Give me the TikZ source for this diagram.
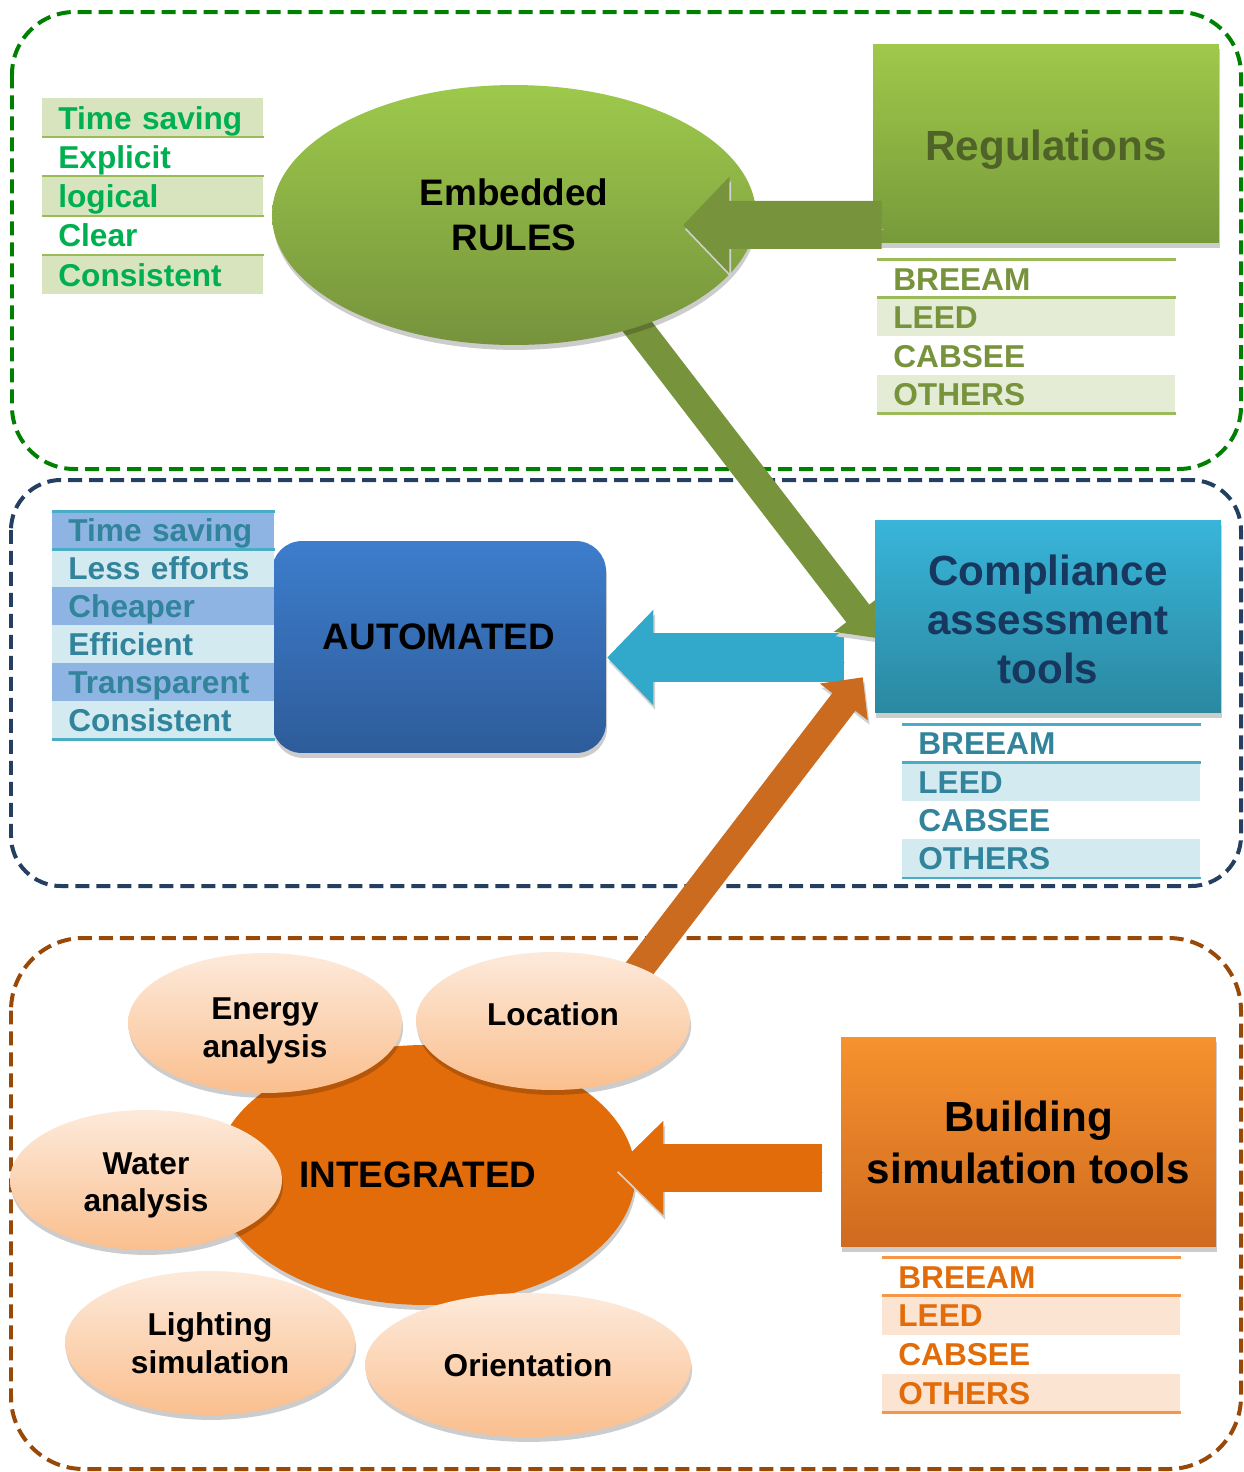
\documentclass[tikz,border=0pt]{standalone}
\usepackage{fontspec}
\setmainfont{Liberation Sans}
\usetikzlibrary{arrows.meta,shapes.geometric,shadows,calc}
\pgfdeclarelayer{back}
\pgfsetlayers{back,main}

% frame colours
\definecolor{frameG}{HTML}{008000}
\definecolor{frameB}{HTML}{243F60}
\definecolor{frameO}{HTML}{984807}
% rules (green) family
\definecolor{embTop}{HTML}{9DC94B}
\definecolor{embBot}{HTML}{76933C}
\definecolor{regTop}{HTML}{A0C84A}
\definecolor{regBot}{HTML}{779A3A}
\definecolor{regTxt}{HTML}{4F6228}
\definecolor{olive}{HTML}{77933C}
\definecolor{oliveLine}{HTML}{9BBB59}
\definecolor{oliveShade}{HTML}{E4ECD6}
\definecolor{gListTxt}{HTML}{00B050}
\definecolor{gListShade}{HTML}{D7E4BD}
% automation (blue) family
\definecolor{casTop}{HTML}{38B5D9}
\definecolor{casBot}{HTML}{2B88A1}
\definecolor{casTxt}{HTML}{17375E}
\definecolor{autoTop}{HTML}{3D7DCC}
\definecolor{autoBot}{HTML}{2E5C9A}
\definecolor{cyanArrow}{HTML}{32A9CA}
\definecolor{tealTxt}{HTML}{31849B}
\definecolor{tealLine}{HTML}{4BACC6}
\definecolor{tealShade}{HTML}{D3EAF1}
\definecolor{blueShade}{HTML}{8DB4E2}
% integration (orange) family
\definecolor{intOrange}{HTML}{E36C0A}
\definecolor{bstTop}{HTML}{F7922F}
\definecolor{bstBot}{HTML}{CF6A1F}
\definecolor{diagOrange}{HTML}{CB6B1F}
\definecolor{orangeLine}{HTML}{F79646}
\definecolor{orangeShade}{HTML}{FCE4D3}
\definecolor{peachTop}{HTML}{FDEADB}
\definecolor{peachBot}{HTML}{FABF8E}

\tikzset{
  shadowed/.style={drop shadow={shadow xshift=0.6pt, shadow yshift=-2.8pt, fill=black, opacity=0.2}},
  regionframe/.style={line width=0.08cm, dash pattern=on 0.28cm off 0.14cm},
  bigtitle/.style={font=\fontsize{24}{28}\selectfont\bfseries, align=center},
  midtitle/.style={font=\fontsize{21}{25.5}\selectfont\bfseries, align=center},
  bubble/.style={ellipse, inner sep=0pt, top color=peachTop, bottom color=peachBot, shadowed,
    font=\fontsize{18}{21.5}\selectfont\bfseries, align=center},
  listrow/.style n args={3}{rectangle, anchor=north west, inner ysep=0pt, inner xsep=0.32cm,
    minimum height=#2, text width=#1, align=left, text=#3,
    font=\fontsize{18}{21}\selectfont\bfseries, text height=13pt, text depth=0pt},
  blockarrow/.style n args={4}{draw=#1, line width=#2,
    -{Triangle[width=#3, length=#4, line width=1.2pt]}},
  arrowshadow/.style={preaction={draw=black!18, transform canvas={xshift=1pt, yshift=-2.5pt}}},
  gsep/.style={draw=oliveLine, line width=0.04cm},
  osep/.style={draw=oliveLine, line width=0.06cm},
  tsep/.style={draw=tealLine, line width=0.06cm},
  rsep/.style={draw=orangeLine, line width=0.06cm},
}

\begin{document}
\begin{tikzpicture}[x=0.02cm, y=-0.02cm]
\useasboundingbox (0,0) rectangle (1244,1472);

% ---------------- rules region ----------------
\node[ellipse, minimum width=9.68cm, minimum height=5.2cm, inner sep=0pt,
      top color=embTop, bottom color=embBot, shadowed, midtitle] (emb) at (514,215) {Embedded\\RULES};
\node[rectangle, minimum width=6.92cm, minimum height=3.98cm, top color=regTop, bottom color=regBot,
      shadowed, bigtitle, text=regTxt, text height=19pt, text depth=0pt] (reg) at (1046,143.5) {Regulations};

% qualities of embedded rules
\node[listrow={3.78cm}{0.784cm}{gListTxt}, fill=gListShade] (gl1) at (42,98) {Time saving};
\node[listrow={3.78cm}{0.784cm}{gListTxt}] (gl2) at (42,137.2) {Explicit};
\node[listrow={3.78cm}{0.784cm}{gListTxt}, fill=gListShade] (gl3) at (42,176.4) {logical};
\node[listrow={3.78cm}{0.784cm}{gListTxt}] (gl4) at (42,215.6) {Clear};
\node[listrow={3.78cm}{0.784cm}{gListTxt}, fill=gListShade] (gl5) at (42,254.8) {Consistent};
\foreach \r in {gl2,gl3,gl4,gl5} \draw[gsep] (\r.north west) -- (\r.north east);

% rating schemes under regulations
\node[listrow={5.32cm}{0.77cm}{olive}] (rl1) at (877,259) {BREEAM};
\node[listrow={5.32cm}{0.77cm}{olive}, fill=oliveShade] (rl2) at (877,297.5) {LEED};
\node[listrow={5.32cm}{0.77cm}{olive}] (rl3) at (877,336) {CABSEE};
\node[listrow={5.32cm}{0.77cm}{olive}, fill=oliveShade] (rl4) at (877,374.5) {OTHERS};
\draw[osep] (rl1.north west) -- (rl1.north east);
\draw[osep] (rl2.north west) -- (rl2.north east);
\draw[osep] (rl4.south west) -- (rl4.south east);

% ---------------- automation region ----------------
\node[rectangle, rounded corners=0.6cm, minimum width=6.68cm, minimum height=4.24cm,
      top color=autoTop, bottom color=autoBot, shadowed, midtitle, text depth=0.4cm] (auto) at (439,647) {AUTOMATED};
\node[rectangle, minimum width=6.92cm, minimum height=3.86cm, top color=casTop, bottom color=casBot,
      shadowed, bigtitle, text=casTxt] (cas) at (1048,616.5) {\rule{0pt}{21pt}Compliance\\assessment\\tools};

% benefits of automation
\node[listrow={3.8cm}{0.76cm}{tealTxt}, fill=blueShade] (bl1) at (52,511) {Time saving};
\node[listrow={3.8cm}{0.76cm}{tealTxt}, fill=tealShade] (bl2) at (52,549) {Less efforts};
\node[listrow={3.8cm}{0.76cm}{tealTxt}, fill=blueShade] (bl3) at (52,587) {Cheaper};
\node[listrow={3.8cm}{0.76cm}{tealTxt}, fill=tealShade] (bl4) at (52,625) {Efficient};
\node[listrow={3.8cm}{0.76cm}{tealTxt}, fill=blueShade] (bl5) at (52,663) {Transparent};
\node[listrow={3.8cm}{0.76cm}{tealTxt}, fill=tealShade] (bl6) at (52,701) {Consistent};
\draw[tsep] (bl1.north west) -- (bl1.north east);
\draw[tsep] (bl2.north west) -- (bl2.north east);
\draw[tsep] (bl6.south west) -- (bl6.south east);

% rating schemes under compliance tools
\node[listrow={5.32cm}{0.766cm}{tealTxt}] (cl1) at (902,724) {BREEAM};
\node[listrow={5.32cm}{0.766cm}{tealTxt}, fill=tealShade] (cl2) at (902,762.3) {LEED};
\node[listrow={5.32cm}{0.766cm}{tealTxt}] (cl3) at (902,800.6) {CABSEE};
\node[listrow={5.32cm}{0.766cm}{tealTxt}, fill=tealShade] (cl4) at (902,838.9) {OTHERS};
\draw[tsep] (cl1.north west) -- (cl1.north east);
\draw[tsep] (cl2.north west) -- (cl2.north east);
\draw[tsep, line width=0.03cm] (cl4.south west) -- (cl4.south east);

% ---------------- integration region ----------------
\node[ellipse, minimum width=8.42cm, minimum height=5.2cm, inner sep=0pt, fill=intOrange,
      shadowed, midtitle] (intg) at (425,1175) {INTEGRATED\hspace*{8pt}};
\node[bubble, minimum width=5.48cm, minimum height=2.8cm] (energy) at (265,1023) {\rule{0pt}{21pt}Energy\\analysis};
\node[bubble, minimum width=5.48cm, minimum height=2.76cm, text depth=8pt] (loc) at (553,1021) {Location};
\node[bubble, minimum width=5.44cm, minimum height=2.8cm] (water) at (146,1180) {\rule{0pt}{18.5pt}Water\\analysis};
\node[bubble, minimum width=5.8cm, minimum height=2.88cm] (light) at (210,1343) {Lighting\\simulation};
\node[bubble, minimum width=6.52cm, minimum height=2.88cm] (orient) at (528,1365) {Orientation};
\node[rectangle, minimum width=7.5cm, minimum height=4.2cm, top color=bstTop, bottom color=bstBot,
      shadowed, align=center, font=\fontsize{24}{29.5}\selectfont\bfseries] (bst) at (1028.5,1142) {Building\\simulation tools};

% rating schemes under simulation tools
\node[listrow={5.32cm}{0.775cm}{intOrange}] (ol1) at (882,1257) {BREEAM};
\node[listrow={5.32cm}{0.775cm}{intOrange}, fill=orangeShade] (ol2) at (882,1295.75) {LEED};
\node[listrow={5.32cm}{0.775cm}{intOrange}] (ol3) at (882,1334.5) {CABSEE};
\node[listrow={5.32cm}{0.775cm}{intOrange}, fill=orangeShade] (ol4) at (882,1373.25) {OTHERS};
\draw[rsep] (ol1.north west) -- (ol1.north east);
\draw[rsep] (ol2.north west) -- (ol2.north east);
\draw[rsep] (ol4.south west) -- (ol4.south east);

% ---------------- block arrows in front ----------------
\draw[blockarrow={olive}{0.96cm}{1.92cm}{0.92cm}, arrowshadow]
  ($(reg.south west)+(9,-18.5)$) -- ($(emb.east)+(-73,10)$);
\draw[blockarrow={intOrange}{0.96cm}{1.88cm}{0.96cm}, arrowshadow]
  ($(bst.west)+(-19,26)$) -- ($(intg.east)+(-20.5,-7)$);

% ---------------- background: frames and arrows behind shapes ----------------
\begin{pgfonlayer}{back}
\fill[white] (0,0) rectangle (1244,1472);
\draw[regionframe, draw=frameG, rounded corners=1.25cm] (12,12) rectangle (1241,469);
\draw[regionframe, draw=frameB, rounded corners=1.0cm] (11,480) rectangle (1241,886);
\draw[regionframe, draw=frameO, rounded corners=1.45cm] (11,938) rectangle (1241,1469);
\draw[blockarrow={cyanArrow}{0.98cm}{1.9cm}{0.92cm}, arrowshadow]
  ($(cas.west)+(-31,41)$) -- ($(auto.east)+(1,10.5)$);
\draw[blockarrow={olive}{0.58cm}{1.2cm}{0.62cm}, arrowshadow]
  ($(emb.center)+(96,76)$) -- ($(cas.west)+(2,21.5)$);
\draw[blockarrow={diagOrange}{0.58cm}{1.2cm}{0.62cm}, arrowshadow]
  ($(loc.center)+(57,-14)$) -- ($(cas.south west)+(-12,-36)$);
\end{pgfonlayer}
\end{tikzpicture}
\end{document}
